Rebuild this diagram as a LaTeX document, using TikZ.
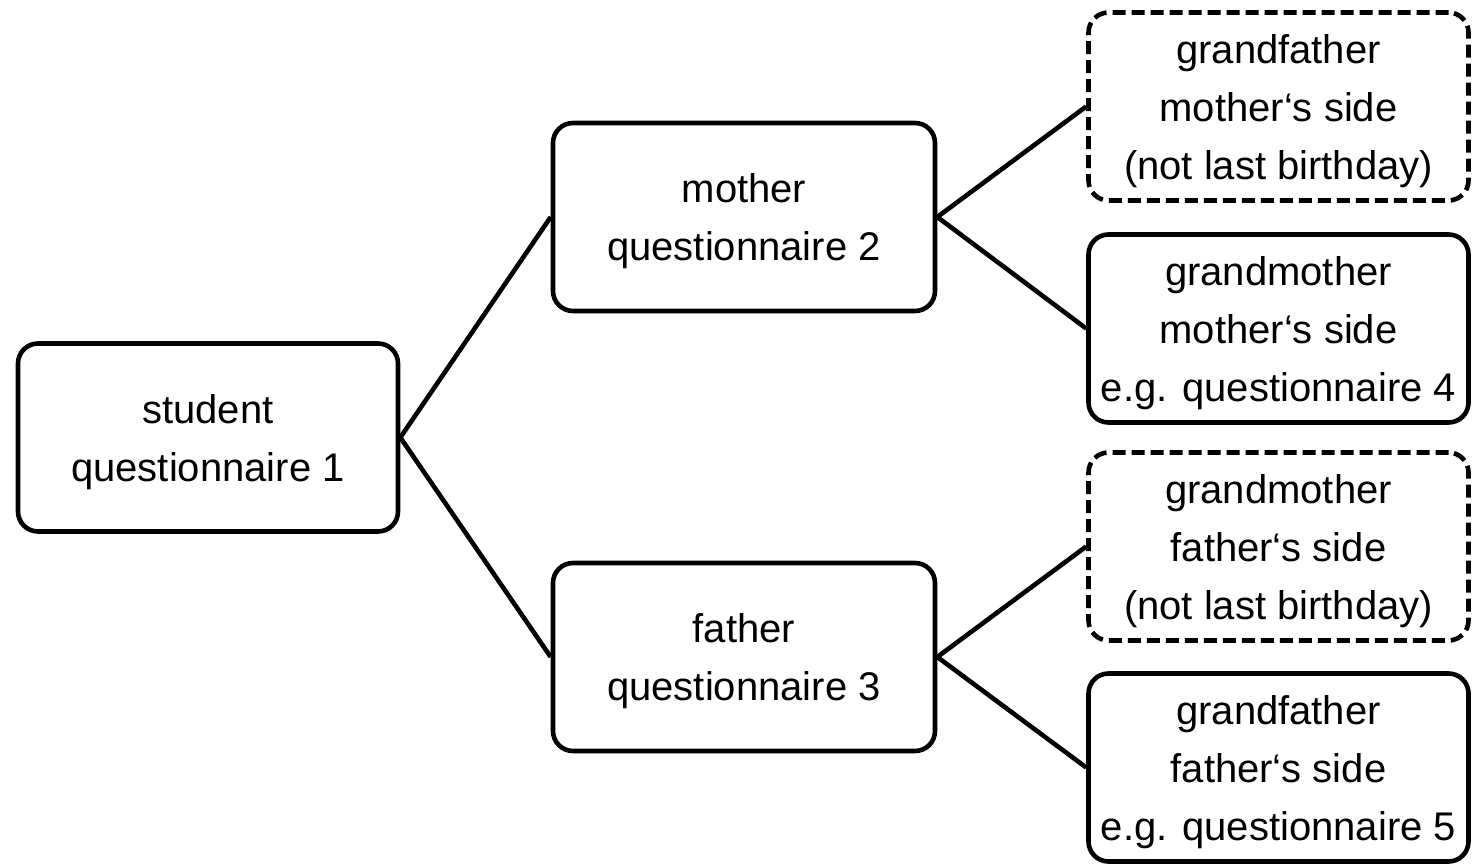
\documentclass[tikz,border=0pt]{standalone}
\usepackage{fontspec}
\setmainfont{Liberation Sans}
\begin{document}
\begin{tikzpicture}[x=0.5pt,y=-0.5pt,
  box/.style={draw=black,line width=2.3pt,rounded corners=10pt,
    inner sep=0pt,minimum width=190pt,minimum height=94pt,
    label={[align=center,font=\fontsize{20}{29}\selectfont,inner sep=0pt,yshift=-2.2pt]center:#1}},
  dbox/.style={box=#1,dash pattern=on 6.5pt off 3pt},
  link/.style={line width=2.3pt}]
\useasboundingbox (0,0) rectangle (1472,865);
\node[box={student\\questionnaire 1}] (s) at (208,437.5) {};
\node[box={mother\\questionnaire 2},minimum width=191pt] (m) at (744,217) {};
\node[box={father\\questionnaire 3},minimum width=191pt] (f) at (744,657) {};
\node[dbox={grandfather\\mother‘s side\\(not last birthday)}] (gfm) at (1278.5,106.5) {};
\node[box={grandmother\\mother‘s side\\e.g. questionnaire 4}] (gmm) at (1278.5,328.5) {};
\node[dbox={grandmother\\father‘s side\\(not last birthday)}] (gmf) at (1278.5,546.5) {};
\node[box={grandfather\\father‘s side\\e.g. questionnaire 5}] (gff) at (1278.5,767.5) {};
\draw[link] (s.east) -- (m.west);
\draw[link] (s.east) -- (f.west);
\draw[link] (m.east) -- (gfm.west);
\draw[link] (m.east) -- (gmm.west);
\draw[link] (f.east) -- (gmf.west);
\draw[link] (f.east) -- (gff.west);
\end{tikzpicture}
\end{document}
